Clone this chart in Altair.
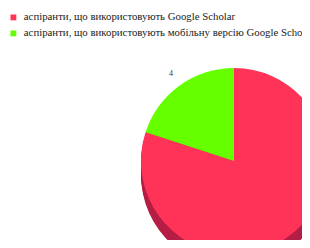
import altair as alt
import pandas as pd

categories = [
    "аспіранти, що використовують Google Scholar",
    "аспіранти, що використовують мобільну версію Google Scholar",
]
values = [16, 4]
labels = ["16", "4"]
order = [0, 1]
colors = ["#FF3358", "#66FF00"]

df = pd.DataFrame({"cat": categories, "val": values, "lab": labels, "ord": order})

CX, CY, R = 226, 153, 93
DEPTH = 14

base = alt.Chart(df)

side_layers = []
for k in range(DEPTH, 0, -2):
    side_layers.append(
        base.mark_arc(radius=R, color="#B51E45", stroke=None).encode(
            theta=alt.Theta("val:Q", stack=True),
            order=alt.Order("ord:Q"),
            x=alt.value(CX),
            y=alt.value(CY + k),
        )
    )

top = base.mark_arc(radius=R).encode(
    theta=alt.Theta("val:Q", stack=True),
    order=alt.Order("ord:Q"),
    color=alt.Color(
        "cat:N",
        scale=alt.Scale(domain=categories, range=colors),
        sort=categories,
        legend=alt.Legend(
            title=None,
            orient="none",
            legendX=0,
            legendY=4,
            symbolType="square",
            symbolSize=34,
            symbolStrokeWidth=0,
            labelFont="Liberation Serif",
            labelFontSize=10.8,
            labelColor="#222222",
            labelLimit=400,
            rowPadding=4,
            symbolOffset=0,
            labelOffset=5,
        ),
    ),
    x=alt.value(CX),
    y=alt.value(CY),
)

text = base.mark_text(
    radius=R + 14, font="Liberation Serif", fontSize=8, color="#333333"
).encode(
    theta=alt.Theta("val:Q", stack=True),
    order=alt.Order("ord:Q"),
    text="lab:N",
    x=alt.value(CX),
    y=alt.value(CY),
)

chart = alt.layer(*side_layers, top, text).properties(
    width=294,
    height=232,
    padding=0,
    autosize=alt.AutoSizeParams(type="none"),
    background="white",
).configure_view(stroke=None)

chart.save("out.html", embed_options={"renderer": "svg", "actions": False})
